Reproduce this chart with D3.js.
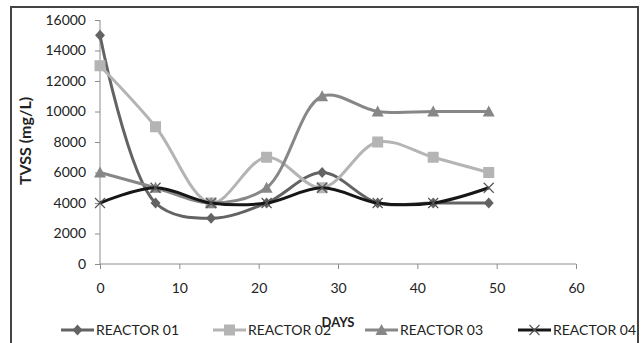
<!DOCTYPE html>
<html><head><meta charset="utf-8">
<script src="https://cdn.jsdelivr.net/npm/d3@7"></script>
<style>body{margin:0;background:#fff;} svg{display:block;} text{font-family:Lato,"Open Sans",sans-serif;}</style>
</head><body>
<svg id="c" width="642" height="343"></svg>
<script>
const days = [0, 7, 14, 21, 28, 35, 42, 49];
const reactor01 = [15000, 4000, 3000, 4000, 6000, 4000, 4000, 4000];
const reactor02 = [13000, 9000, 4000, 7000, 5000, 8000, 7000, 6000];
const reactor03 = [6000, 5000, 4000, 5000, 11000, 10000, 10000, 10000];
const reactor04 = [4000, 5000, 4000, 4000, 5000, 4000, 4000, 5000];
const seriesNames = ["REACTOR 01", "REACTOR 02", "REACTOR 03", "REACTOR 04"];
const xTicks = [0, 10, 20, 30, 40, 50, 60];
const yTicks = [0, 2000, 4000, 6000, 8000, 10000, 12000, 14000, 16000];

const svg = d3.select("#c");
// outer border
svg.append("rect").attr("x", 11).attr("y", 7).attr("width", 627).attr("height", 360)
  .attr("fill", "none").attr("stroke", "#444").attr("stroke-width", 2);

const x = d3.scaleLinear().domain([0, 60]).range([100, 576]);
const y = d3.scaleLinear().domain([0, 16000]).range([264, 20]);

const ax = svg.append("g").attr("transform", "translate(0,264)")
  .call(d3.axisBottom(x).tickValues(xTicks).tickFormat(d3.format("d")).tickSize(5).tickPadding(14));
const ay = svg.append("g").attr("transform", "translate(100,0)")
  .call(d3.axisLeft(y).tickValues(yTicks).tickFormat(d3.format("d")).tickSize(5).tickPadding(9));
[ax, ay].forEach(a => {
  a.selectAll("path,line").attr("stroke", "#8c8c8c");
  a.selectAll("text").attr("font-size", 14).attr("fill", "#222").attr("font-family", "Lato, 'Open Sans', sans-serif");
});
ax.select(".domain").attr("d", "M100,0H576");
ay.select(".domain").attr("d", "M0,20V264");

svg.append("text").attr("x", 338).attr("y", 327).attr("text-anchor", "middle")
  .attr("font-size", 13).attr("font-weight", "bold").attr("fill", "#222").text("DAYS");
svg.append("text").attr("transform", "translate(31,141) rotate(-90)").attr("text-anchor", "middle")
  .attr("font-size", 16).attr("font-weight", "bold").attr("fill", "#222").text("TVSS (mg/L)");

const series = [
  {name: seriesNames[0], values: reactor01, color: "#636363", marker: "diamond"},
  {name: seriesNames[1], values: reactor02, color: "#b4b4b4", marker: "square"},
  {name: seriesNames[2], values: reactor03, color: "#878787", marker: "triangle"},
  {name: seriesNames[3], values: reactor04, color: "#161616", marker: "x"}
];
const line = d3.line().x(d => x(d[0])).y(d => y(d[1])).curve(d3.curveCatmullRom.alpha(0.5));

function drawMarker(g, type, cx, cy, color) {
  if (type === "diamond") {
    g.append("path").attr("d", `M${cx},${cy-5.5}L${cx+5},${cy}L${cx},${cy+5.5}L${cx-5},${cy}Z`).attr("fill", color);
  } else if (type === "square") {
    g.append("rect").attr("x", cx-5.5).attr("y", cy-5.5).attr("width", 11).attr("height", 11).attr("fill", color);
  } else if (type === "triangle") {
    g.append("path").attr("d", `M${cx},${cy-6}L${cx+6},${cy+5}L${cx-6},${cy+5}Z`).attr("fill", color);
  } else {
    g.append("path").attr("d", `M${cx-5},${cy-5}L${cx+5},${cy+5}M${cx+5},${cy-5}L${cx-5},${cy+5}`)
      .attr("stroke", "#555").attr("stroke-width", 1.2).attr("fill", "none");
  }
}

series.forEach(s => {
  const pts = days.map((d, i) => [d, s.values[i]]);
  const g = svg.append("g");
  g.append("path").attr("d", line(pts)).attr("fill", "none").attr("stroke", s.color).attr("stroke-width", 3);
  pts.forEach(p => drawMarker(g, s.marker, x(p[0]), y(p[1]), s.color));
});

const legX = [61, 213, 365, 518];
series.forEach((s, i) => {
  const g = svg.append("g");
  const ly = 330;
  g.append("line").attr("x1", legX[i]).attr("x2", legX[i] + 33).attr("y1", ly).attr("y2", ly)
    .attr("stroke", s.color).attr("stroke-width", 3);
  drawMarker(g, s.marker, legX[i] + 16.5, ly, s.color);
  g.append("text").attr("x", legX[i] + 35).attr("y", ly + 5).attr("font-size", 14).attr("fill", "#222").text(s.name);
});
</script>
</body></html>
